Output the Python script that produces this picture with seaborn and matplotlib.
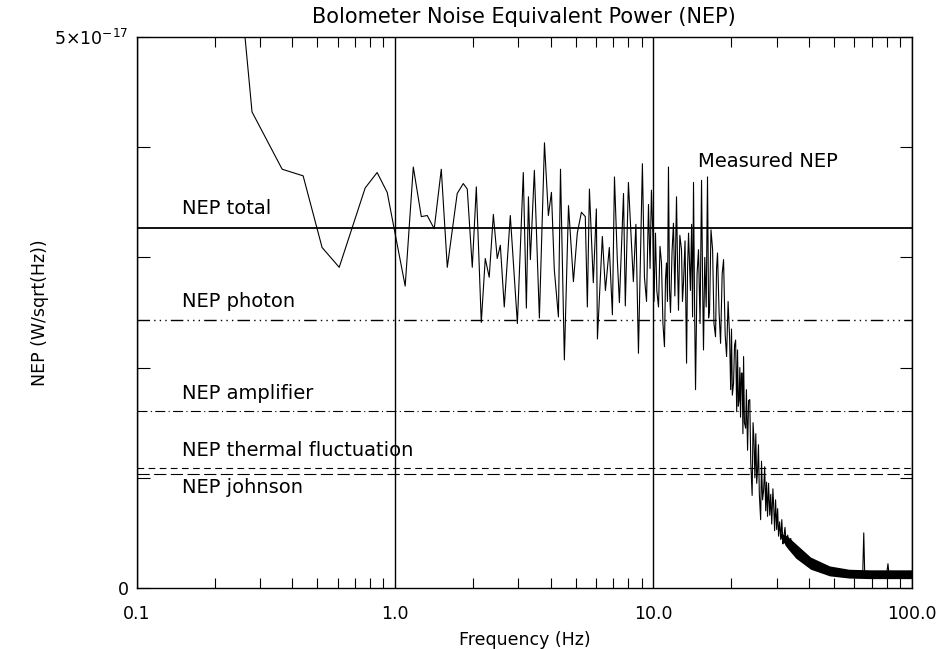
import numpy as np
import matplotlib
matplotlib.use("Agg")
import matplotlib.pyplot as plt
import seaborn as sns
import pandas as pd
from matplotlib.ticker import FixedLocator, FixedFormatter, LogLocator, NullFormatter

# Measured NEP spectrum (units of 1e-17 W/sqrt(Hz))
freq_hz = [
    0.183, 0.279, 0.365, 0.440, 0.521, 0.607, 0.765, 0.851, 0.931, 1.093,
    1.175, 1.262, 1.330, 1.416, 1.508, 1.591, 1.738, 1.835, 1.901, 1.988,
    2.061, 2.154, 2.232, 2.312, 2.399, 2.483, 2.553, 2.644, 2.790, 2.972,
    3.133, 3.220, 3.280, 3.337, 3.458, 3.616, 3.784, 3.918, 4.027, 4.130,
    4.285, 4.365, 4.518, 4.688, 4.898, 5.070, 5.260, 5.445, 5.546, 5.649,
    5.848, 6.010, 6.067, 6.339, 6.516, 6.745, 6.934, 7.063, 7.244, 7.379,
    7.656, 7.780, 7.998, 8.358, 8.55, 8.746, 9.060, 9.226, 9.40, 9.565,
    9.70, 9.820, 9.95, 10.05, 10.18,
    10.30, 10.46, 10.60, 10.74, 10.88, 11.03, 11.13, 11.23, 11.33, 11.43,
    11.54, 11.64, 11.80, 11.95, 12.10, 12.28, 12.40, 12.50, 12.65, 12.84,
    12.95, 13.07, 13.25, 13.43, 13.55, 13.67, 13.90, 14.05, 14.17, 14.29,
    14.42, 14.55, 14.75, 14.94, 15.15, 15.35, 15.50, 15.62, 15.80, 16.00,
    16.19, 16.35, 16.49, 16.70, 16.94, 17.15, 17.39, 17.55, 17.70, 17.95,
    18.19, 18.45, 18.68, 18.95, 19.19, 19.45, 19.71, 19.9, 20.05, 20.2,
    20.42, 20.6, 20.80, 21.0, 21.16, 21.3, 21.45, 21.6, 21.73, 21.9,
    22.05, 22.2, 22.33, 22.5, 22.75, 22.9, 23.14, 23.35, 23.6, 23.8,
    24.1, 24.3, 24.5, 24.7, 24.9, 25.1, 25.3, 25.5, 25.7, 26.0,
    26.2, 26.45, 26.7, 26.95, 27.2, 27.4, 27.65, 27.9, 28.2, 28.45,
    28.7, 29.0, 29.2, 29.45, 29.7, 30.0, 30.25, 30.5, 30.8, 31.1,
    31.4, 31.7, 31.9, 32.3, 32.7, 33.1, 33.5, 34.0, 34.5, 35.1,
    35.7, 36.4, 37.0, 37.7, 38.5, 39.3, 40.2, 41.0, 43.6, 46.6,
    51.0, 55.8, 61.0, 64.6, 65.2, 65.75, 72.8, 80.1, 80.9, 81.6,
    90.5, 100.0,
]
nep_measured = [
    8.90, 4.32, 3.80, 3.74, 3.09, 2.91, 3.63, 3.77, 3.59, 2.74,
    3.82, 3.37, 3.38, 3.26, 3.80, 2.91, 3.58, 3.67, 3.62, 2.91,
    3.64, 2.41, 2.99, 2.82, 3.39, 2.99, 3.11, 2.55, 3.38, 2.40,
    3.77, 2.54, 3.55, 2.98, 3.79, 2.45, 4.04, 3.38, 3.59, 2.89,
    2.46, 3.80, 2.07, 3.47, 2.78, 3.22, 3.41, 3.37, 2.55, 3.62,
    2.77, 3.44, 2.26, 3.19, 2.70, 3.09, 2.48, 3.73, 2.98, 2.59,
    3.58, 2.56, 3.68, 2.78, 3.30, 2.13, 3.85, 2.82, 2.60, 3.48,
    2.90, 3.61, 3.20, 2.60, 3.22,
    2.70, 2.55, 3.10, 2.95, 2.40, 2.19, 2.80, 2.95, 2.60, 3.82,
    2.70, 2.50, 3.05, 3.31, 2.65, 3.55, 2.90, 2.52, 3.20, 3.07,
    2.60, 2.77, 3.15, 2.04, 2.90, 3.22, 2.70, 3.30, 2.46, 3.68,
    2.60, 1.80, 2.85, 3.07, 2.40, 3.70, 2.75, 2.16, 3.00, 2.55,
    3.73, 2.45, 2.52, 3.25, 3.07, 2.40, 2.28, 2.90, 3.04, 2.50,
    2.22, 2.85, 2.98, 2.30, 2.10, 2.60, 2.28, 1.80, 2.35, 1.75,
    1.86, 2.20, 2.25, 1.60, 2.16, 1.65, 1.70, 2.00, 1.55, 1.95,
    1.95, 1.40, 2.10, 1.50, 1.45, 1.80, 1.25, 1.70, 1.71, 1.15,
    0.84, 1.50, 1.34, 1.00, 1.40, 0.95, 1.07, 1.30, 0.85, 0.62,
    1.15, 0.80, 0.89, 1.10, 0.70, 0.96, 0.65, 0.95, 0.66, 0.85,
    0.58, 0.90, 0.75, 0.52, 0.80, 0.53, 0.72, 0.47, 0.60, 0.44,
    0.62, 0.40, 0.44, 0.55, 0.38, 0.48, 0.37, 0.45, 0.33, 0.36,
    0.28, 0.29, 0.34, 0.26, 0.25, 0.28, 0.20, 0.21, 0.20, 0.15,
    0.16, 0.14, 0.15, 0.13, 0.50, 0.13, 0.14, 0.14, 0.22, 0.13,
    0.14, 0.13,
]

# dense high-frequency band of the spectrum (upper / lower envelope)
band_freq = [31.0, 33.0, 35.6, 40.6, 48.1, 57.2, 68.8, 82.7, 100.0]
band_hi = [0.50, 0.47, 0.40, 0.28, 0.20, 0.17, 0.165, 0.165, 0.165]
band_lo = [0.46, 0.36, 0.27, 0.17, 0.11, 0.09, 0.085, 0.085, 0.085]

# model NEP components (1e-17 W/sqrt(Hz))
nep_names = ["NEP total", "NEP photon", "NEP amplifier", "NEP thermal fluctuation", "NEP johnson"]
nep_levels = [3.27, 2.43, 1.61, 1.09, 1.03]

scale = 1e-17

sns.set_theme(style="white")
plt.rcParams["font.family"] = ["DejaVu Sans"]

fig = plt.figure(figsize=(9.38, 6.49), dpi=100)
ax = fig.add_axes([0.146, 0.094, 0.826, 0.849])

df = pd.DataFrame({"freq": freq_hz, "nep": np.array(nep_measured) * scale})
ax.fill_between(band_freq, np.array(band_lo) * scale, np.array(band_hi) * scale,
                color="black", linewidth=0)
sns.lineplot(data=df, x="freq", y="nep", ax=ax, color="black", linewidth=0.8,
             sort=False, estimator=None)

styles = [
    "-",
    (0, (9, 3, 1, 3, 1, 3, 1, 3)),
    (0, (9, 3, 1, 3)),
    (0, (6, 4)),
    (0, (11, 4)),
]
widths = [1.3, 1.0, 0.8, 0.8, 0.8]
for level, ls, lw in zip(nep_levels, styles, widths):
    ax.axhline(level * scale, color="black", linestyle=ls, linewidth=lw)

txt = dict(fontsize=14, color="black")
ax.text(0.149, 3.36 * scale, nep_names[0], va="bottom", **txt)
ax.text(0.149, 2.51 * scale, nep_names[1], va="bottom", **txt)
ax.text(0.149, 1.68 * scale, nep_names[2], va="bottom", **txt)
ax.text(0.149, 1.16 * scale, nep_names[3], va="bottom", **txt)
ax.text(0.149, 1.00 * scale, nep_names[4], va="top", **txt)
ax.text(14.9, 3.78 * scale, "Measured NEP", va="bottom", **txt)

ax.set_xscale("log")
ax.set_xlim(0.1, 100)
ax.set_ylim(0, 5 * scale)

ax.xaxis.set_major_locator(FixedLocator([0.1, 1, 10, 100]))
ax.xaxis.set_major_formatter(FixedFormatter(["0.1", "1.0", "10.0", "100.0"]))
ax.xaxis.set_minor_locator(LogLocator(base=10, subs=np.arange(2, 10)))
ax.xaxis.set_minor_formatter(NullFormatter())
ax.grid(axis="x", which="major", color="black", linewidth=1.0, linestyle="-")

yt = [i * scale for i in range(6)]
ax.yaxis.set_major_locator(FixedLocator(yt))
ax.yaxis.set_major_formatter(FixedFormatter(["0", "", "", "", "", r"5×10$^{\mathregular{-17}}$"]))

ax.tick_params(axis="both", which="both", direction="in", top=True, right=True,
               bottom=True, left=True, color="black", labelcolor="black", labelsize=12.5)
ax.tick_params(axis="x", which="major", length=0, pad=12)
ax.tick_params(axis="x", which="minor", length=7, width=0.8)
ax.tick_params(axis="y", which="major", length=9, width=0.8, pad=6)

for s in ax.spines.values():
    s.set_color("black")
    s.set_linewidth(1.0)

ax.set_xlabel("Frequency (Hz)", fontsize=12.5, labelpad=6, color="black")
ax.set_ylabel("NEP (W/sqrt(Hz))", fontsize=12.5, labelpad=4, color="black")
ax.set_title("Bolometer Noise Equivalent Power (NEP)", fontsize=15, pad=10, color="black")

fig.savefig("out.png", dpi=100, facecolor="white")
